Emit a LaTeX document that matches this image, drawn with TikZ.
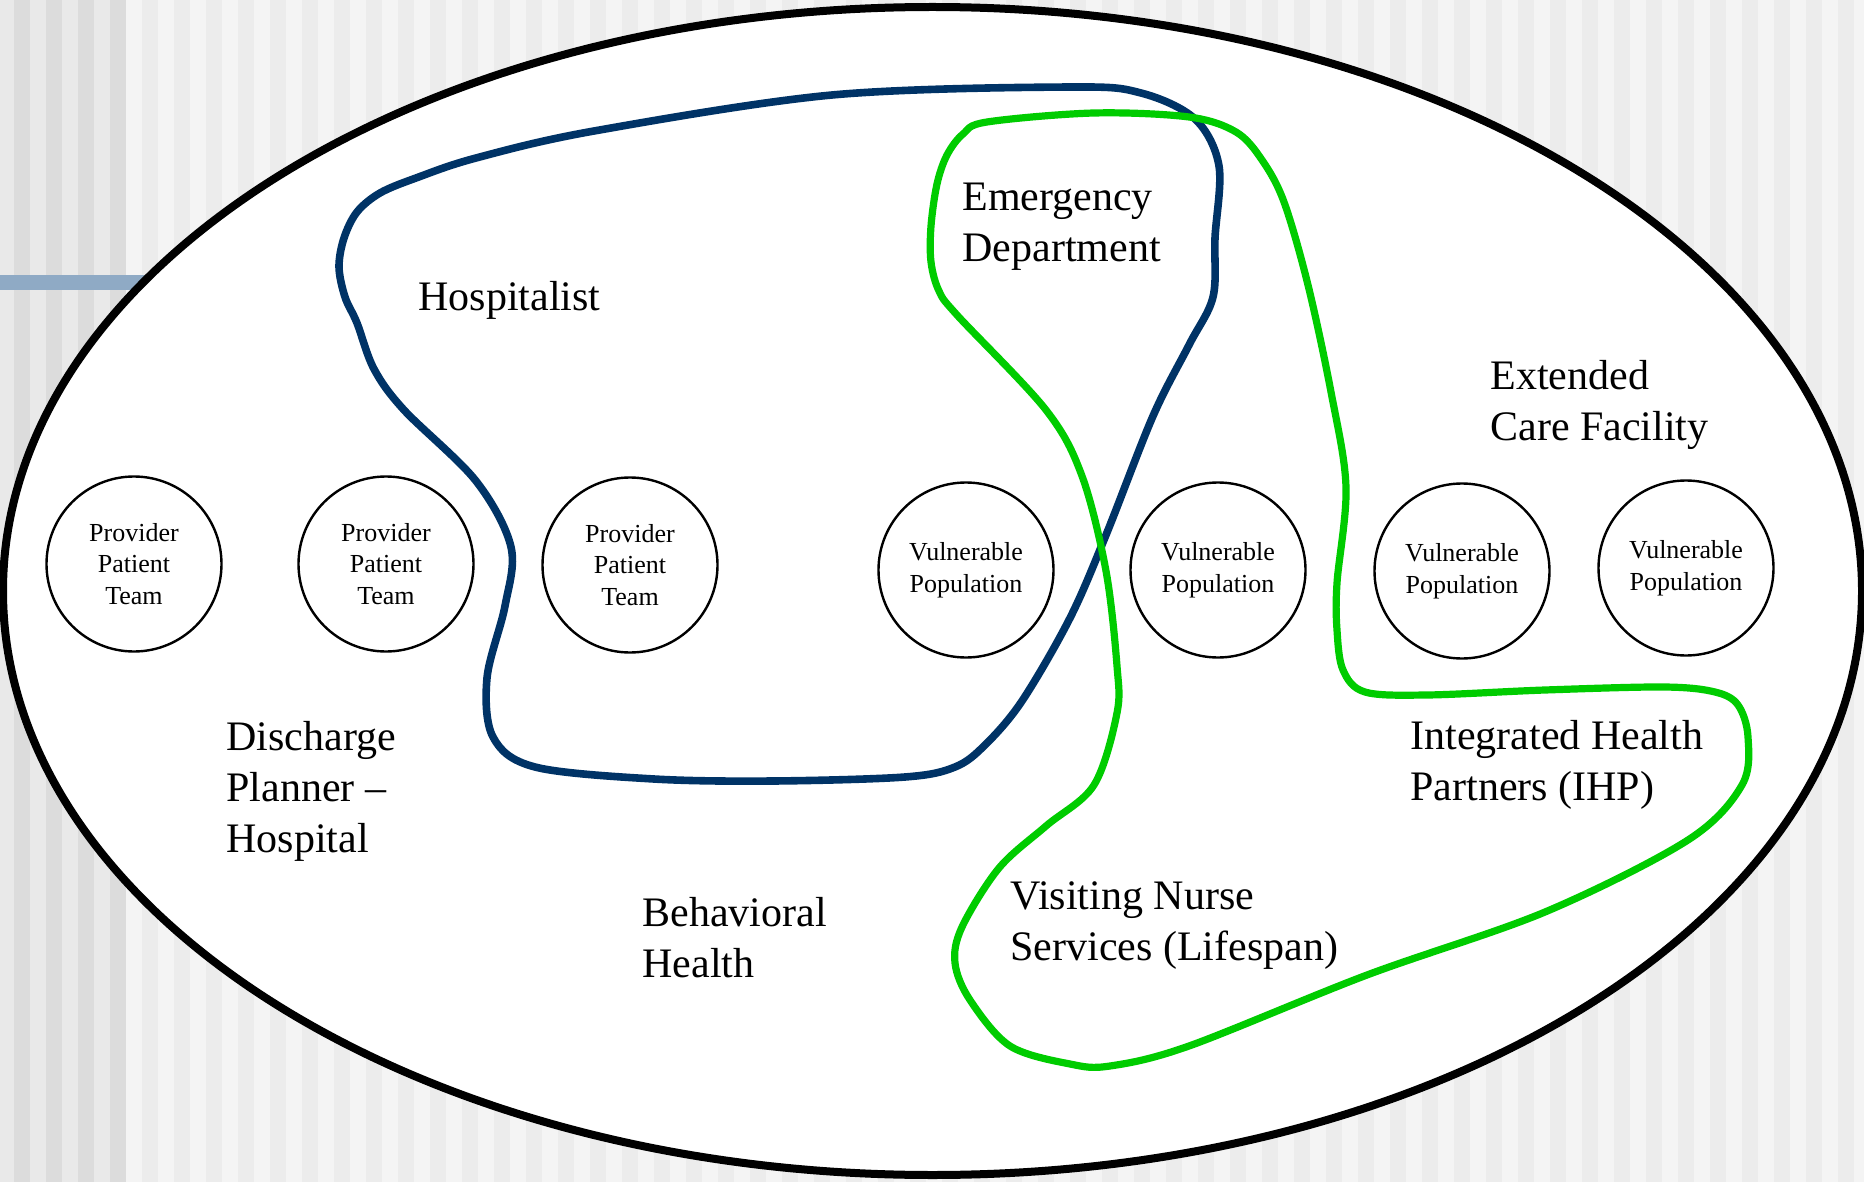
\documentclass[tikz,border=0pt]{standalone}
\usepackage{fontspec}
\setmainfont{Liberation Serif}
\definecolor{stripeA}{HTML}{E9E9E9}
\definecolor{stripeB}{HTML}{DCDCDC}
\definecolor{stripeC}{HTML}{F4F4F4}
\definecolor{stripeD}{HTML}{ECECEC}
\definecolor{barblue}{HTML}{8FAAC5}
\definecolor{navy}{HTML}{003366}
\definecolor{leaf}{HTML}{00CC00}
\tikzset{
  % multi-line labels are placed by the baseline of their last line
  lbl/.style={anchor=base west, align=left, inner sep=0pt,
    font=\fontsize{21}{25.5}\selectfont},
  unit/.style={circle, draw, line width=1.2pt, minimum size=87.5pt,
    inner sep=0pt, align=center, font=\fontsize{13}{15.8}\selectfont},
  hosp/.style={draw=navy, line width=3.8pt},
  comm/.style={draw=leaf, line width=3.6pt},
}
\begin{document}
\begin{tikzpicture}[x=0.5pt, y=-0.5pt]
\clip (0,0) rectangle (1864,1182);
% slide background stripes
\fill[stripeA] (0,0) rectangle (126,1182);
\foreach \k in {0,...,3} \fill[stripeB] (14+32*\k,0) rectangle (30+32*\k,1182);
\fill[stripeC] (126,0) rectangle (1864,1182);
\foreach \k in {0,...,54} \fill[stripeD] (142+32*\k,0) rectangle (158+32*\k,1182);
\fill[barblue] (0,275) rectangle (200,290);

% the whole system
\draw[line width=4pt, fill=white] (932.5,591) ellipse [x radius=929.5, y radius=584];

% units
\node[unit] (ppt1) at (134,564) {Provider\\Patient\\Team};
\node[unit] (ppt2) at (386,564) {Provider\\Patient\\Team};
\node[unit] (ppt3) at (630,565) {Provider\\Patient\\Team};
\node[unit] (vp1) at (966,570) {Vulnerable\\Population};
\node[unit] (vp2) at (1218,570) {Vulnerable\\Population};
\node[unit] (vp3) at (1462,571) {Vulnerable\\Population};
\node[unit] (vp4) at (1686,568) {Vulnerable\\Population};

% hospital boundary
\draw[hosp] plot[smooth cycle, tension=0.55] coordinates {
  (1070,87) (832,95) (594,131) (476,158) (416,178) (380,193) (357,212)
  (344,238) (339,267) (345,297) (357,323) (374,369) (404,410) (476,481)
  (511,547) (505,606) (487,678) (493,737) (535,767) (654,779) (773,781)
  (905,777) (955,767) (985,745) (1022,701) (1070,618) (1106,535)
  (1153,416) (1189,345) (1213,297) (1215,238) (1219,166) (1195,119)
  (1141,93)};

% community boundary
\draw[comm] plot[smooth cycle, tension=0.55] coordinates {
  (1094,113) (987,122) (963,134) (947,155) (937,184) (931,226) (931,262)
  (939,291) (957,315) (1046,410) (1082,476) (1106,571) (1117,666)
  (1117,713) (1094,785) (1046,826) (999,868) (962,927) (955,963)
  (970,1000) (1010,1046) (1070,1064) (1110,1066) (1189,1046) (1367,975)
  (1545,912) (1688,840) (1742,785) (1748,737) (1738,705) (1715,692)
  (1664,687) (1545,690) (1427,695) (1365,692) (1343,670) (1337,630)
  (1337,583) (1346,487) (1331,392) (1308,285) (1284,202) (1262,160)
  (1236,132) (1189,117)};

% labels
\node[lbl] (hospitalist) at (418,311) {Hospitalist};
\node[lbl] (ed) at (962,262) {Emergency\\Department};
\node[lbl] (ecf) at (1490,440) {Extended\\Care Facility};
\node[lbl] (dp) at (226,852) {Discharge\\Planner –\\Hospital};
\node[lbl] (bh) at (642,977) {Behavioral\\Health};
\node[lbl] (vns) at (1010,960) {Visiting Nurse\\Services (Lifespan)};
\node[lbl] (ihp) at (1410,800) {Integrated Health\\Partners (IHP)};
\end{tikzpicture}
\end{document}
